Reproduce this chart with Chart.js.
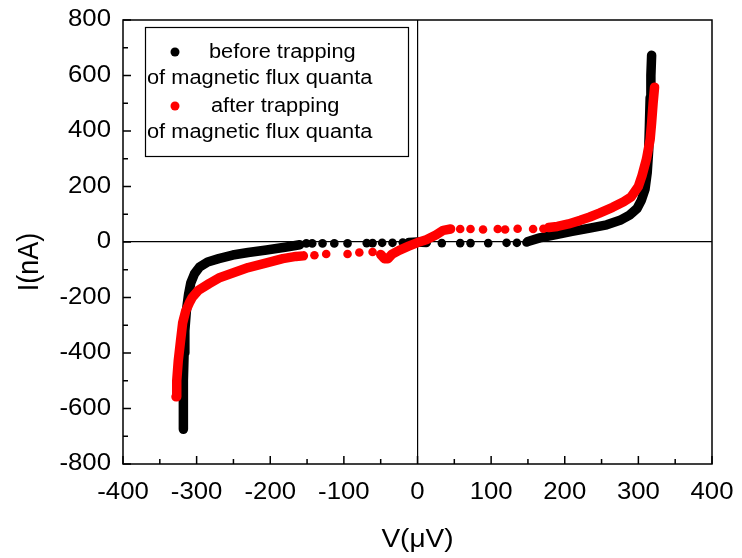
<!DOCTYPE html>
<html>
<head>
<meta charset="utf-8">
<script src="https://cdn.jsdelivr.net/npm/chart.js@4.4.1/dist/chart.umd.min.js"></script>
<style>
  body { margin: 0; background: #fff; }
  canvas { display: block; }
</style>
</head>
<body>
<canvas id="mycanvas" width="742" height="558"></canvas>
<script>
// V (uV), I (nA)
var xTicks = [-400, -300, -200, -100, 0, 100, 200, 300, 400];
var yTicks = [-800, -600, -400, -200, 0, 200, 400, 600, 800];

// before trapping (black): dense parts of the curve
var beforeLeft = [[-318,-675],[-318,-600],[-318,-500],[-317,-400],[-316,-320],[-314,-250],[-311,-190],
  [-308,-148],[-303,-115],[-296,-90],[-285,-72],[-270,-60],[-251,-47],[-230,-38],[-205,-29],[-178,-18],[-160,-10]];
var beforeCenter = [[-12,-2],[0,0],[12,-2]];
var beforeRight = [[150,2],[166,15],[190,28],[210,38],[234,50],[257,62],[275,78],[288,97],[298,120],
  [304,150],[309,190],[312,250],[314,330],[315,420],[316,520],[317,600],[318,673]];
// before trapping: separate dots
var beforeDots = [[-151,-5],[-143,-5],[-129,-5],[-113,-5],[-95,-5],[-69,-4],[-61,-4],[-48,-3],[-34,-3],[-20,-2],
  [33,-4],[58,-4],[72,-4],[96,-4],[121,-3],[135,-3],[148,-2]];

// after trapping (red)
var afterLeft = [[-328,-558],[-327,-500],[-325,-430],[-322,-360],[-319,-292],[-315,-250],[-310,-220],[-306,-200],
  [-298,-175],[-283,-150],[-270,-130],[-251,-112],[-230,-92],[-205,-75],[-183,-60],[-165,-52],[-155,-50]];
var afterCenter = [[-50,-45],[-45,-60],[-40,-60],[-35,-45],[-25,-30],[-12,-15],[0,-2],[12,8],[25,25],[35,42],[45,47]];
var afterRight = [[178,52],[190,56],[205,65],[221,78],[234,90],[247,104],[265,125],[280,145],[290,162],
  [300,200],[305,240],[311,299],[316,370],[318,430],[320,500],[322,558]];
var afterDots = [[-140,-48],[-124,-43],[-95,-43],[-79,-38],[-61,-36],
  [58,47],[72,47],[89,45],[109,47],[119,45],[136,48],[157,47],[171,48]];

var legendLines = ['before trapping', 'of magnetic flux quanta', 'after trapping', 'of magnetic flux quanta'];

function pts(arr) {
  return arr.map(function(p){ return {x: p[0], y: p[1]}; });
}
function joined() {
  var out = [];
  for (var i = 0; i < arguments.length; i++) {
    if (i > 0) out.push({x: null, y: null});
    out = out.concat(pts(arguments[i]));
  }
  return out;
}

var FONT = '"Liberation Sans", Arial, sans-serif';
function stretchText(ctx, txt, x, y, align, sx) {
  ctx.save();
  ctx.translate(x, y);
  ctx.scale(sx, 1);
  ctx.textAlign = align;
  ctx.fillText(txt, 0, 0);
  ctx.restore();
}

var decor = {
  id: 'decor',
  afterDraw: function(chart) {
    var ctx = chart.ctx, a = chart.chartArea;
    var xs = chart.scales.x, ys = chart.scales.y;
    ctx.save();
    ctx.strokeStyle = '#000';
    ctx.lineWidth = 1.5;
    ctx.strokeRect(a.left, a.top, a.right - a.left, a.bottom - a.top);

    // inward ticks
    ctx.beginPath();
    for (var i = 0; i < xTicks.length; i++) {
      var px = xs.getPixelForValue(xTicks[i]);
      ctx.moveTo(px, a.bottom); ctx.lineTo(px, a.bottom - 8);
      if (i < xTicks.length - 1) {
        var mx = xs.getPixelForValue((xTicks[i] + xTicks[i + 1]) / 2);
        ctx.moveTo(mx, a.bottom); ctx.lineTo(mx, a.bottom - 5);
      }
    }
    for (var j = 0; j < yTicks.length; j++) {
      var py = ys.getPixelForValue(yTicks[j]);
      ctx.moveTo(a.left, py); ctx.lineTo(a.left + 8, py);
      if (j < yTicks.length - 1) {
        var my = ys.getPixelForValue((yTicks[j] + yTicks[j + 1]) / 2);
        ctx.moveTo(a.left, my); ctx.lineTo(a.left + 5, my);
      }
    }
    ctx.stroke();

    // tick labels
    ctx.fillStyle = '#000';
    ctx.font = '23px ' + FONT;
    ctx.textBaseline = 'middle';
    xTicks.forEach(function(v){
      stretchText(ctx, String(v), xs.getPixelForValue(v), a.bottom + 29, 'center', 1.12);
    });
    yTicks.forEach(function(v){
      stretchText(ctx, String(v), a.left - 12, ys.getPixelForValue(v), 'right', 1.12);
    });

    // axis titles
    ctx.font = '25px ' + FONT;
    stretchText(ctx, 'V(\u03bcV)', (a.left + a.right) / 2, 540, 'center', 1.12);
    ctx.save();
    ctx.translate(30, 262);
    ctx.rotate(-Math.PI / 2);
    ctx.scale(1, 1.12);
    ctx.textAlign = 'center';
    ctx.font = '27px ' + FONT;
    ctx.fillText('I(nA)', 0, 0);
    ctx.restore();

    // legend
    ctx.lineWidth = 1.2;
    ctx.strokeRect(145.5, 27.5, 263, 129);
    ctx.font = '20px ' + FONT;
    var rows = [52, 78, 106, 132];
    var colors = ['#000', null, '#ff0000', null];
    for (var k = 0; k < legendLines.length; k++) {
      if (colors[k]) {
        ctx.fillStyle = colors[k];
        ctx.beginPath();
        ctx.arc(175, rows[k], 4.5, 0, Math.PI * 2);
        ctx.fill();
        ctx.fillStyle = '#000';
        stretchText(ctx, legendLines[k], k === 0 ? 209 : 211, rows[k], 'left', 1.09);
      } else {
        stretchText(ctx, legendLines[k], 147, rows[k], 'left', 1.09);
      }
    }
    ctx.restore();
  }
};

function zeroLine(c) {
  return c.tick && c.tick.value === 0 ? '#000' : 'rgba(0,0,0,0)';
}

var ctx = document.getElementById('mycanvas');
var chart = new Chart(ctx, {
  type: 'scatter',
  data: {
    datasets: [
      {
        label: 'after trapping (curve)',
        data: joined(afterLeft, afterCenter, afterRight),
        showLine: true,
        borderColor: '#ff0000',
        borderWidth: 9.5,
        borderCapStyle: 'round',
        borderJoinStyle: 'round',
        pointRadius: 0,
        order: 0
      },
      {
        label: 'after trapping',
        data: pts(afterDots),
        backgroundColor: '#ff0000',
        borderWidth: 0,
        pointRadius: 4.3,
        order: 0
      },
      {
        label: 'before trapping (curve)',
        data: joined(beforeLeft, beforeCenter, beforeRight),
        showLine: true,
        borderColor: '#000',
        borderWidth: 9.5,
        borderCapStyle: 'round',
        borderJoinStyle: 'round',
        pointRadius: 0,
        order: 1
      },
      {
        label: 'before trapping',
        data: pts(beforeDots),
        backgroundColor: '#000',
        borderWidth: 0,
        pointRadius: 4.3,
        order: 1
      }
    ]
  },
  options: {
    responsive: false,
    animation: false,
    devicePixelRatio: 1,
    layout: { padding: { top: 20, right: 30, left: 0, bottom: 0 } },
    plugins: { legend: { display: false }, tooltip: { enabled: false } },
    scales: {
      x: {
        type: 'linear', min: -400, max: 400,
        ticks: { stepSize: 100, display: false },
        grid: { color: zeroLine, lineWidth: 1.2, drawTicks: false },
        border: { display: false },
        afterFit: function(s) { s.height = 94; }
      },
      y: {
        type: 'linear', min: -800, max: 800,
        ticks: { stepSize: 200, display: false },
        grid: { color: zeroLine, lineWidth: 1.2, drawTicks: false },
        border: { display: false },
        afterFit: function(s) { s.width = 123; }
      }
    }
  },
  plugins: [decor]
});
</script>
</body>
</html>
